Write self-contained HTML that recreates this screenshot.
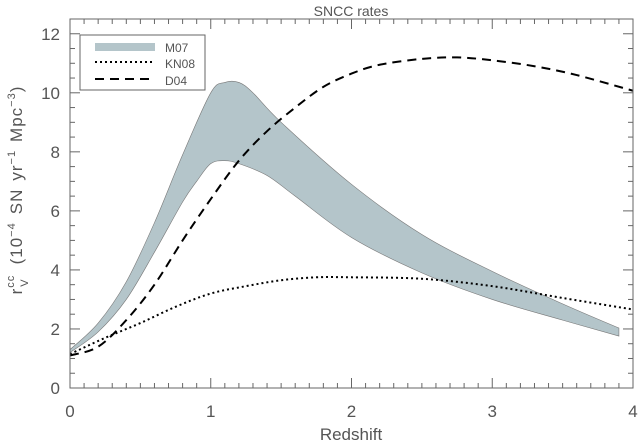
<!DOCTYPE html>
<html><head><meta charset="utf-8"><style>
html,body{margin:0;padding:0;background:#fff;}
svg{display:block;font-family:"Liberation Sans",sans-serif;}
</style></head><body>
<svg id="chart" width="639" height="444"></svg>
<script>
const bandZ=[0,0.2,0.4,0.6,0.8,1.0,1.1,1.2,1.3,1.5,2.0,2.5,3.0,3.5,3.9];
const bandUpper=[1.3,2.2,3.6,5.6,7.9,10.0,10.35,10.35,10.0,9.0,6.9,5.2,3.95,2.85,2.03];
const bandLowZ=[0,0.2,0.4,0.6,0.8,0.9,1.0,1.1,1.2,1.4,1.6,2.0,2.5,3.0,3.5,3.9];
const bandLower=[1.2,1.9,3.0,4.6,6.3,7.0,7.6,7.7,7.6,7.2,6.5,5.1,3.9,3.0,2.3,1.76];
const kn08Z=[0,0.25,0.5,0.75,1.0,1.25,1.5,1.75,2.0,2.5,3.0,3.5,4.0];
const kn08=[1.15,1.7,2.2,2.75,3.2,3.45,3.65,3.75,3.75,3.7,3.45,3.05,2.66];
const d04Z=[0,0.2,0.4,0.6,0.8,1.0,1.2,1.4,1.6,1.8,2.0,2.2,2.5,2.75,3.0,3.3,3.6,4.0];
const d04=[1.1,1.4,2.3,3.5,5.0,6.4,7.7,8.7,9.5,10.2,10.65,10.95,11.15,11.2,11.1,10.9,10.6,10.07];
const xTicks=[0,1,2,3,4];
const yTicks=[0,2,4,6,8,10,12];

const NS='http://www.w3.org/2000/svg';
const svg=document.getElementById('chart');
const L=70,R=633,B=388,T=19;
const X=z=>L+(z/4)*(R-L);
const Y=v=>B-(v/12.5)*(B-T);
function mk(tag,attrs,parent){const e=document.createElementNS(NS,tag);for(const k in attrs)e.setAttribute(k,attrs[k]);(parent||svg).appendChild(e);return e;}
function smooth(pts,start){let d=(start?'M':'L')+pts[0][0]+','+pts[0][1];
for(let i=0;i<pts.length-1;i++){const p0=pts[Math.max(i-1,0)],p1=pts[i],p2=pts[i+1],p3=pts[Math.min(i+2,pts.length-1)];
const c1x=p1[0]+(p2[0]-p0[0])/6,c1y=p1[1]+(p2[1]-p0[1])/6,c2x=p2[0]-(p3[0]-p1[0])/6,c2y=p2[1]-(p3[1]-p1[1])/6;
d+='C'+c1x+','+c1y+' '+c2x+','+c2y+' '+p2[0]+','+p2[1];}return d;}
const axis='#666';
const up=bandZ.map((z,i)=>[X(z),Y(bandUpper[i])]);
const lo=bandLowZ.map((z,i)=>[X(z),Y(bandLower[i])]).reverse();
const band=mk('path',{d:smooth(up,true)+smooth(lo,false)+'Z',fill:'#b4c5ca',stroke:'#777','stroke-width':0.6});


const kn=mk('path',{d:smooth(kn08Z.map((z,i)=>[X(z),Y(kn08[i])]),true),fill:'none',stroke:'#000','stroke-width':2,'stroke-dasharray':'2 3'});


const dd=mk('path',{d:smooth(d04Z.map((z,i)=>[X(z),Y(d04[i])]),true),fill:'none',stroke:'#000','stroke-width':2,'stroke-dasharray':'9 6'});


const fr=mk('rect',{x:L,y:T,width:R-L,height:B-T,fill:'none',stroke:axis,'stroke-width':1});


for(let i=0;i<=40;i++){const x=X(i/10);const len=i%10===0?10:5;
mk('line',{x1:x,y1:B,x2:x,y2:B-len,stroke:axis});mk('line',{x1:x,y1:T,x2:x,y2:T+len,stroke:axis});}
for(let i=0;i<=25;i++){const y=Y(i/2);const len=i%4===0?10:5;
mk('line',{x1:L,y1:y,x2:L+len,y2:y,stroke:axis});mk('line',{x1:R,y1:y,x2:R-len,y2:y,stroke:axis});}
xTicks.forEach(v=>{const t=mk('text',{x:X(v),y:417,'text-anchor':'middle','font-size':17,fill:'#555'});t.textContent=v;

});
yTicks.forEach(v=>{const t=mk('text',{x:60,y:Y(v)+6,'text-anchor':'end','font-size':17,fill:'#555'});t.textContent=v;

});
const title=mk('text',{x:351,y:16,'text-anchor':'middle','font-size':14,fill:'#555'});title.textContent='SNCC rates';


const xt=mk('text',{x:351,y:440,'text-anchor':'middle','font-size':17,fill:'#555'});xt.textContent='Redshift';


const yt=mk('text',{transform:'translate(22,190) rotate(-90)','text-anchor':'middle','font-size':17,fill:'#555','letter-spacing':'1'});
yt.innerHTML='r<tspan dy="-8" font-size="11">cc</tspan><tspan dy="14" dx="-12" font-size="11">V</tspan><tspan dy="-6" dx="14">(10</tspan><tspan dy="-7" font-size="11">−4</tspan><tspan dy="7" dx="8">SN</tspan><tspan dx="8">yr</tspan><tspan dy="-7" font-size="11">−1</tspan><tspan dy="7" dx="8">Mpc</tspan><tspan dy="-7" font-size="11">−3</tspan><tspan dy="7">)</tspan>';


const lg=mk('g',{});


mk('rect',{x:80,y:35,width:125,height:55,fill:'#fff',stroke:axis},lg);
mk('rect',{x:95,y:43,width:60,height:8,fill:'#b4c5ca'},lg);
mk('line',{x1:95,y1:62,x2:155,y2:62,stroke:'#000','stroke-width':2,'stroke-dasharray':'2 3'},lg);
mk('line',{x1:95,y1:79,x2:155,y2:79,stroke:'#000','stroke-width':2,'stroke-dasharray':'9 6'},lg);
[['M07',52],['KN08',68],['D04',85]].forEach(([s,y])=>{const t=mk('text',{x:165,y:y,'font-size':12,fill:'#555'},lg);t.textContent=s;

});
</script>
</body></html>
